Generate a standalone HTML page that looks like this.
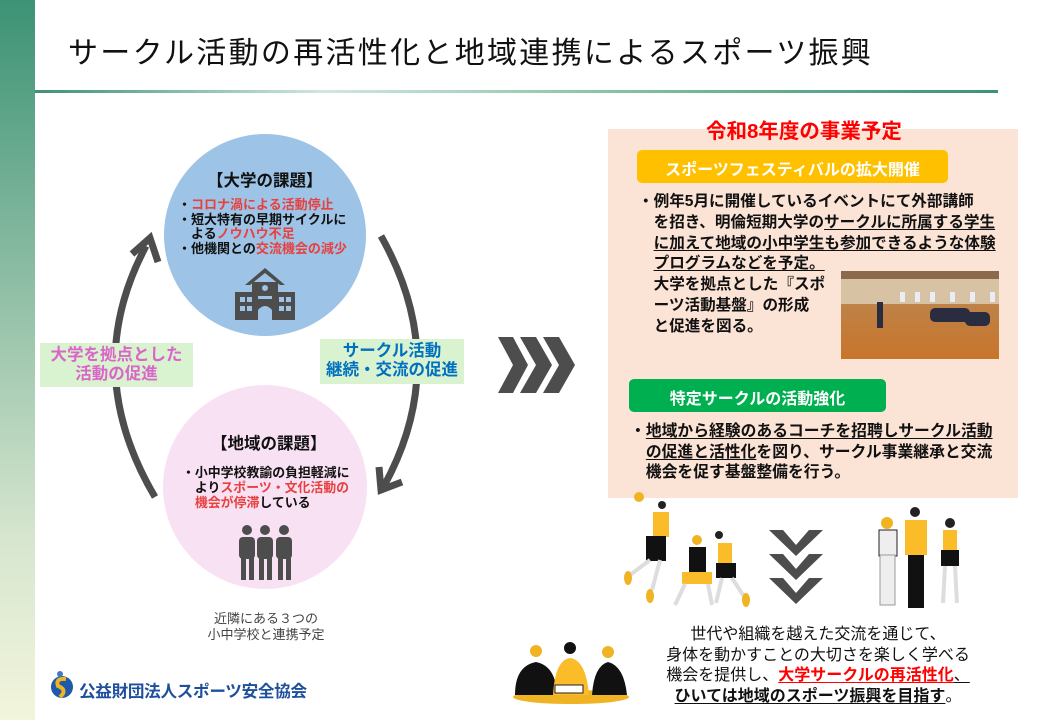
<!DOCTYPE html>
<html><head><meta charset="utf-8"><style>
*{margin:0;padding:0;box-sizing:border-box}
body{width:1040px;height:720px;position:relative;background:#fff;overflow:hidden;font-family:"Liberation Sans","Noto Sans CJK JP",sans-serif;color:#111}
.a{position:absolute;white-space:nowrap}
.b{font-weight:bold}
.r{color:#e8403e}
.u{text-decoration:underline;text-underline-offset:2px}
</style></head><body>
<div class="a" style="left:0;top:0;width:35px;height:720px;background:linear-gradient(#3d9275,#8fbfa6 40%,#d7e6cf 75%,#f2f5dc)"></div>
<div class="a" style="left:68px;top:28px;font-size:30px;letter-spacing:2.3px;color:#111">サークル活動の再活性化と地域連携によるスポーツ振興</div>
<div class="a" style="left:35px;top:90px;width:963px;height:3px;background:linear-gradient(90deg,#3d9275,#cfe8dc 30%,#6fb596 70%,#3d9275)"></div>

<svg class="a" style="left:0;top:0" width="1040" height="720">
<circle cx="265" cy="235" r="101" fill="#9dc3e6"/>
<circle cx="265" cy="487" r="102" fill="#f8e1f3"/>
<path d="M155 497 Q80 370 146 246" stroke="#4d4d4d" stroke-width="7" fill="none"/>
<path d="M132 254 L150 238 L158 262" stroke="#4d4d4d" stroke-width="7" fill="none" stroke-linejoin="miter"/>
<path d="M381 236 Q452 362 384 486" stroke="#4d4d4d" stroke-width="7" fill="none"/>
<path d="M379 467 L381 490 L402 482" stroke="#4d4d4d" stroke-width="7" fill="none"/>
<g fill="#4d4d4d">
<path d="M265 268 L245 285 L250 285 L265 273 L280 285 L285 285 Z"/>
<rect x="252" y="282" width="26" height="38"/>
<rect x="235" y="292" width="60" height="28"/>
</g>
<g fill="#9dc3e6">
<circle cx="265" cy="288" r="3"/>
<rect x="240" y="297" width="5" height="5"/><rect x="247" y="297" width="5" height="5"/>
<rect x="240" y="306" width="5" height="5"/><rect x="247" y="306" width="5" height="5"/>
<rect x="279" y="297" width="5" height="5"/><rect x="286" y="297" width="5" height="5"/>
<rect x="279" y="306" width="5" height="5"/><rect x="286" y="306" width="5" height="5"/>
<rect x="258" y="296" width="14" height="3"/>
<path d="M258 320 V310 Q265 302 272 310 V320Z"/>
</g>
<g fill="#4d4d4d">
<circle cx="247" cy="530" r="5"/><circle cx="265" cy="530" r="5"/><circle cx="284" cy="530" r="5"/>
<rect x="239" y="537" width="16" height="22" rx="4"/><rect x="257" y="537" width="16" height="22" rx="4"/><rect x="276" y="537" width="16" height="22" rx="4"/>
<rect x="241" y="555" width="5" height="25"/><rect x="249" y="555" width="5" height="25"/>
<rect x="259" y="555" width="5" height="25"/><rect x="267" y="555" width="5" height="25"/>
<rect x="278" y="555" width="5" height="25"/><rect x="286" y="555" width="5" height="25"/>
</g>
<g fill="#4d4d4d">
<path d="M498 337 L513 337 L528 365 L513 393 L498 393 L513 365Z"/>
<path d="M520 337 L536 337 L552 365 L536 393 L520 393 L536 365Z"/>
<path d="M543 337 L559 337 L575 365 L559 393 L543 393 L559 365Z"/>
</g>
<rect x="608" y="129" width="410" height="369" fill="#fbe3d6"/>
<rect x="637" y="150" width="311" height="33" rx="5" fill="#ffc000"/>
<rect x="629" y="379" width="257" height="33" rx="5" fill="#00b050"/>
<defs><linearGradient id="fl" x1="0" y1="0" x2="0" y2="1"><stop offset="0" stop-color="#b98a5a"/><stop offset="1" stop-color="#c8752a"/></linearGradient></defs>
<rect x="841" y="271" width="158" height="88" fill="url(#fl)"/>
<rect x="841" y="271" width="158" height="33" fill="#d8c2a4"/>
<rect x="841" y="271" width="158" height="8" fill="#8a6a4a"/>
<g fill="#e8eef4"><rect x="900" y="292" width="5" height="10"/><rect x="915" y="292" width="5" height="10"/><rect x="930" y="292" width="5" height="10"/><rect x="950" y="292" width="5" height="10"/><rect x="970" y="292" width="5" height="10"/><rect x="990" y="292" width="5" height="10"/></g>
<g fill="#2a2d40"><rect x="877" y="302" width="6" height="26"/><rect x="930" y="308" width="40" height="14" rx="5"/><rect x="965" y="312" width="25" height="14" rx="5"/></g>
<g fill="#4d4d4d">
<path d="M769 530 L783 530 L796 545 L809 530 L823 530 L796 556Z"/>
<path d="M769 554 L783 554 L796 569 L809 554 L823 554 L796 580Z"/>
<path d="M769 578 L783 578 L796 593 L809 578 L823 578 L796 604Z"/>
</g>
<g>
<circle cx="639" cy="497" r="5" fill="#f0b323"/>
<circle cx="662" cy="505" r="4" fill="#222"/>
<rect x="653" y="512" width="16" height="25" fill="#fbbc2a"/>
<rect x="646" y="536" width="20" height="25" fill="#111"/>
<path d="M650 560 L630 575" stroke="#ddd" stroke-width="4"/><path d="M660 560 L652 590" stroke="#ddd" stroke-width="4"/>
<ellipse cx="628" cy="578" rx="4" ry="7" fill="#f0b323"/><ellipse cx="650" cy="596" rx="4" ry="7" fill="#f0b323"/>
<circle cx="697" cy="540" r="5" fill="#f0b323"/>
<rect x="689" y="547" width="17" height="25" fill="#111"/>
<rect x="682" y="572" width="30" height="12" fill="#fbbc2a"/>
<path d="M685 584 L675 605 M708 584 L712 605" stroke="#ddd" stroke-width="4"/>
<circle cx="719" cy="535" r="4" fill="#222"/>
<rect x="718" y="543" width="14" height="20" fill="#fbbc2a"/>
<rect x="716" y="563" width="20" height="15" fill="#111"/>
<path d="M722 578 L716 603 M732 578 L745 598" stroke="#ddd" stroke-width="4"/>
<ellipse cx="746" cy="600" rx="4" ry="7" fill="#f0b323"/>
</g>
<g>
<circle cx="887" cy="523" r="6" fill="#f0b323"/>
<rect x="879" y="530" width="18" height="26" fill="#eee" stroke="#222"/>
<rect x="880" y="555" width="15" height="50" fill="#eee" stroke="#999"/>
<circle cx="915" cy="512" r="5" fill="#222"/>
<rect x="905" y="520" width="22" height="35" fill="#fbbc2a"/>
<rect x="908" y="555" width="16" height="53" fill="#111"/>
<circle cx="950" cy="523" r="5" fill="#222"/>
<rect x="943" y="530" width="14" height="20" fill="#fbbc2a"/>
<rect x="941" y="550" width="18" height="16" fill="#111"/>
<path d="M945 566 L943 603 M955 566 L957 603" stroke="#ddd" stroke-width="4"/>
</g>
<g>
<ellipse cx="571" cy="697" rx="58" ry="7" fill="#f0b323"/>
<circle cx="536" cy="651" r="6" fill="#f0b323"/>
<path d="M515 695 Q515 666 536 662 Q556 666 557 695Z" fill="#111"/>
<circle cx="570" cy="648" r="6" fill="#111"/>
<path d="M553 695 Q555 660 570 658 Q586 660 589 695Z" fill="#fbbc2a"/>
<circle cx="608" cy="652" r="6" fill="#f0b323"/>
<path d="M592 695 Q594 666 608 662 Q624 666 627 695Z" fill="#111"/>
<rect x="555" y="685" width="28" height="8" fill="#fff" stroke="#222"/>
</g>
<circle cx="62" cy="687" r="11" fill="#1e5aa8"/>
<path d="M66 679 Q55 678 58 686 Q68 690 60 697" stroke="#f0b323" stroke-width="4" fill="none"/>
<circle cx="60" cy="674" r="3" fill="#3a7ac8"/>
</svg>

<div class="a b" style="left:207px;top:167px;font-size:16.5px">【大学の課題】</div>
<div class="a b" style="left:178px;top:198px;font-size:13px;line-height:14.6px">・<span class="r">コロナ渦による活動停止</span><br>・短大特有の早期サイクルに<br>　よる<span class="r">ノウハウ不足</span><br>・他機関との<span class="r">交流機会の減少</span></div>
<div class="a b" style="left:211px;top:430px;font-size:16.5px">【地域の課題】</div>
<div class="a b" style="left:182px;top:465px;font-size:12.9px;line-height:15px">・小中学校教諭の負担軽減に<br>　より<span class="r">スポーツ・文化活動の</span><br>　<span class="r">機会が停滞</span>している</div>
<div class="a" style="left:266px;top:611px;transform:translateX(-50%);font-size:13px;line-height:16px;color:#444;text-align:center">近隣にある３つの<br>小中学校と連携予定</div>
<div class="a b" style="left:40px;top:343px;width:153px;height:44px;background:#d9f2d0;color:#d966c8;font-size:16.5px;line-height:19px;text-align:center;padding-top:3px">大学を拠点とした<br>活動の促進</div>
<div class="a b" style="left:320px;top:339px;width:144px;height:45px;background:#d9f2d0;color:#0070c0;font-size:16.5px;line-height:19px;text-align:center;padding-top:3px">サークル活動<br>継続・交流の促進</div>

<div class="a b" style="left:706px;top:114px;font-size:20.5px;color:#f00">令和8年度の事業予定</div>
<div class="a b" style="left:637px;top:156px;width:311px;text-align:center;font-size:16px;color:#fff">スポーツフェスティバルの拡大開催</div>
<div class="a b" style="left:638px;top:192px;font-size:15.6px;line-height:20.8px">・例年5月に開催しているイベントにて外部講師<br>　を招き、明倫短期大学の<span class="u">サークルに所属する学生</span><br>　<span class="u">に加えて地域の小中学生も参加できるような体験</span><br>　<span class="u">プログラムなどを予定。</span><br>　大学を拠点とした『スポ<br>　ーツ活動基盤』の形成<br>　と促進を図る。</div>
<div class="a b" style="left:629px;top:385px;width:257px;text-align:center;font-size:16px;color:#fff">特定サークルの活動強化</div>
<div class="a b" style="left:630px;top:422px;font-size:15.8px;line-height:20.5px">・<span class="u">地域から経験のあるコーチを招聘しサークル活動</span><br>　<span class="u">の促進と活性化</span>を図り、サークル事業継承と交流<br>　機会を促す基盤整備を行う。</div>
<div class="a" style="left:818px;top:625px;transform:translateX(-50%);font-size:16px;line-height:20.5px;text-align:center">世代や組織を越えた交流を通じて、<br>身体を動かすことの大切さを楽しく学べる<br>機会を提供し、<span class="b u" style="color:#f00">大学サークルの再活性化</span><span class="u">、</span><br><span class="b u">ひいては地域のスポーツ振興を目指す</span>。</div>
<div class="a b" style="left:79px;top:678px;font-size:16.6px;color:#1e4f9c;letter-spacing:-0.3px">公益財団法人スポーツ安全協会</div>
</body></html>
